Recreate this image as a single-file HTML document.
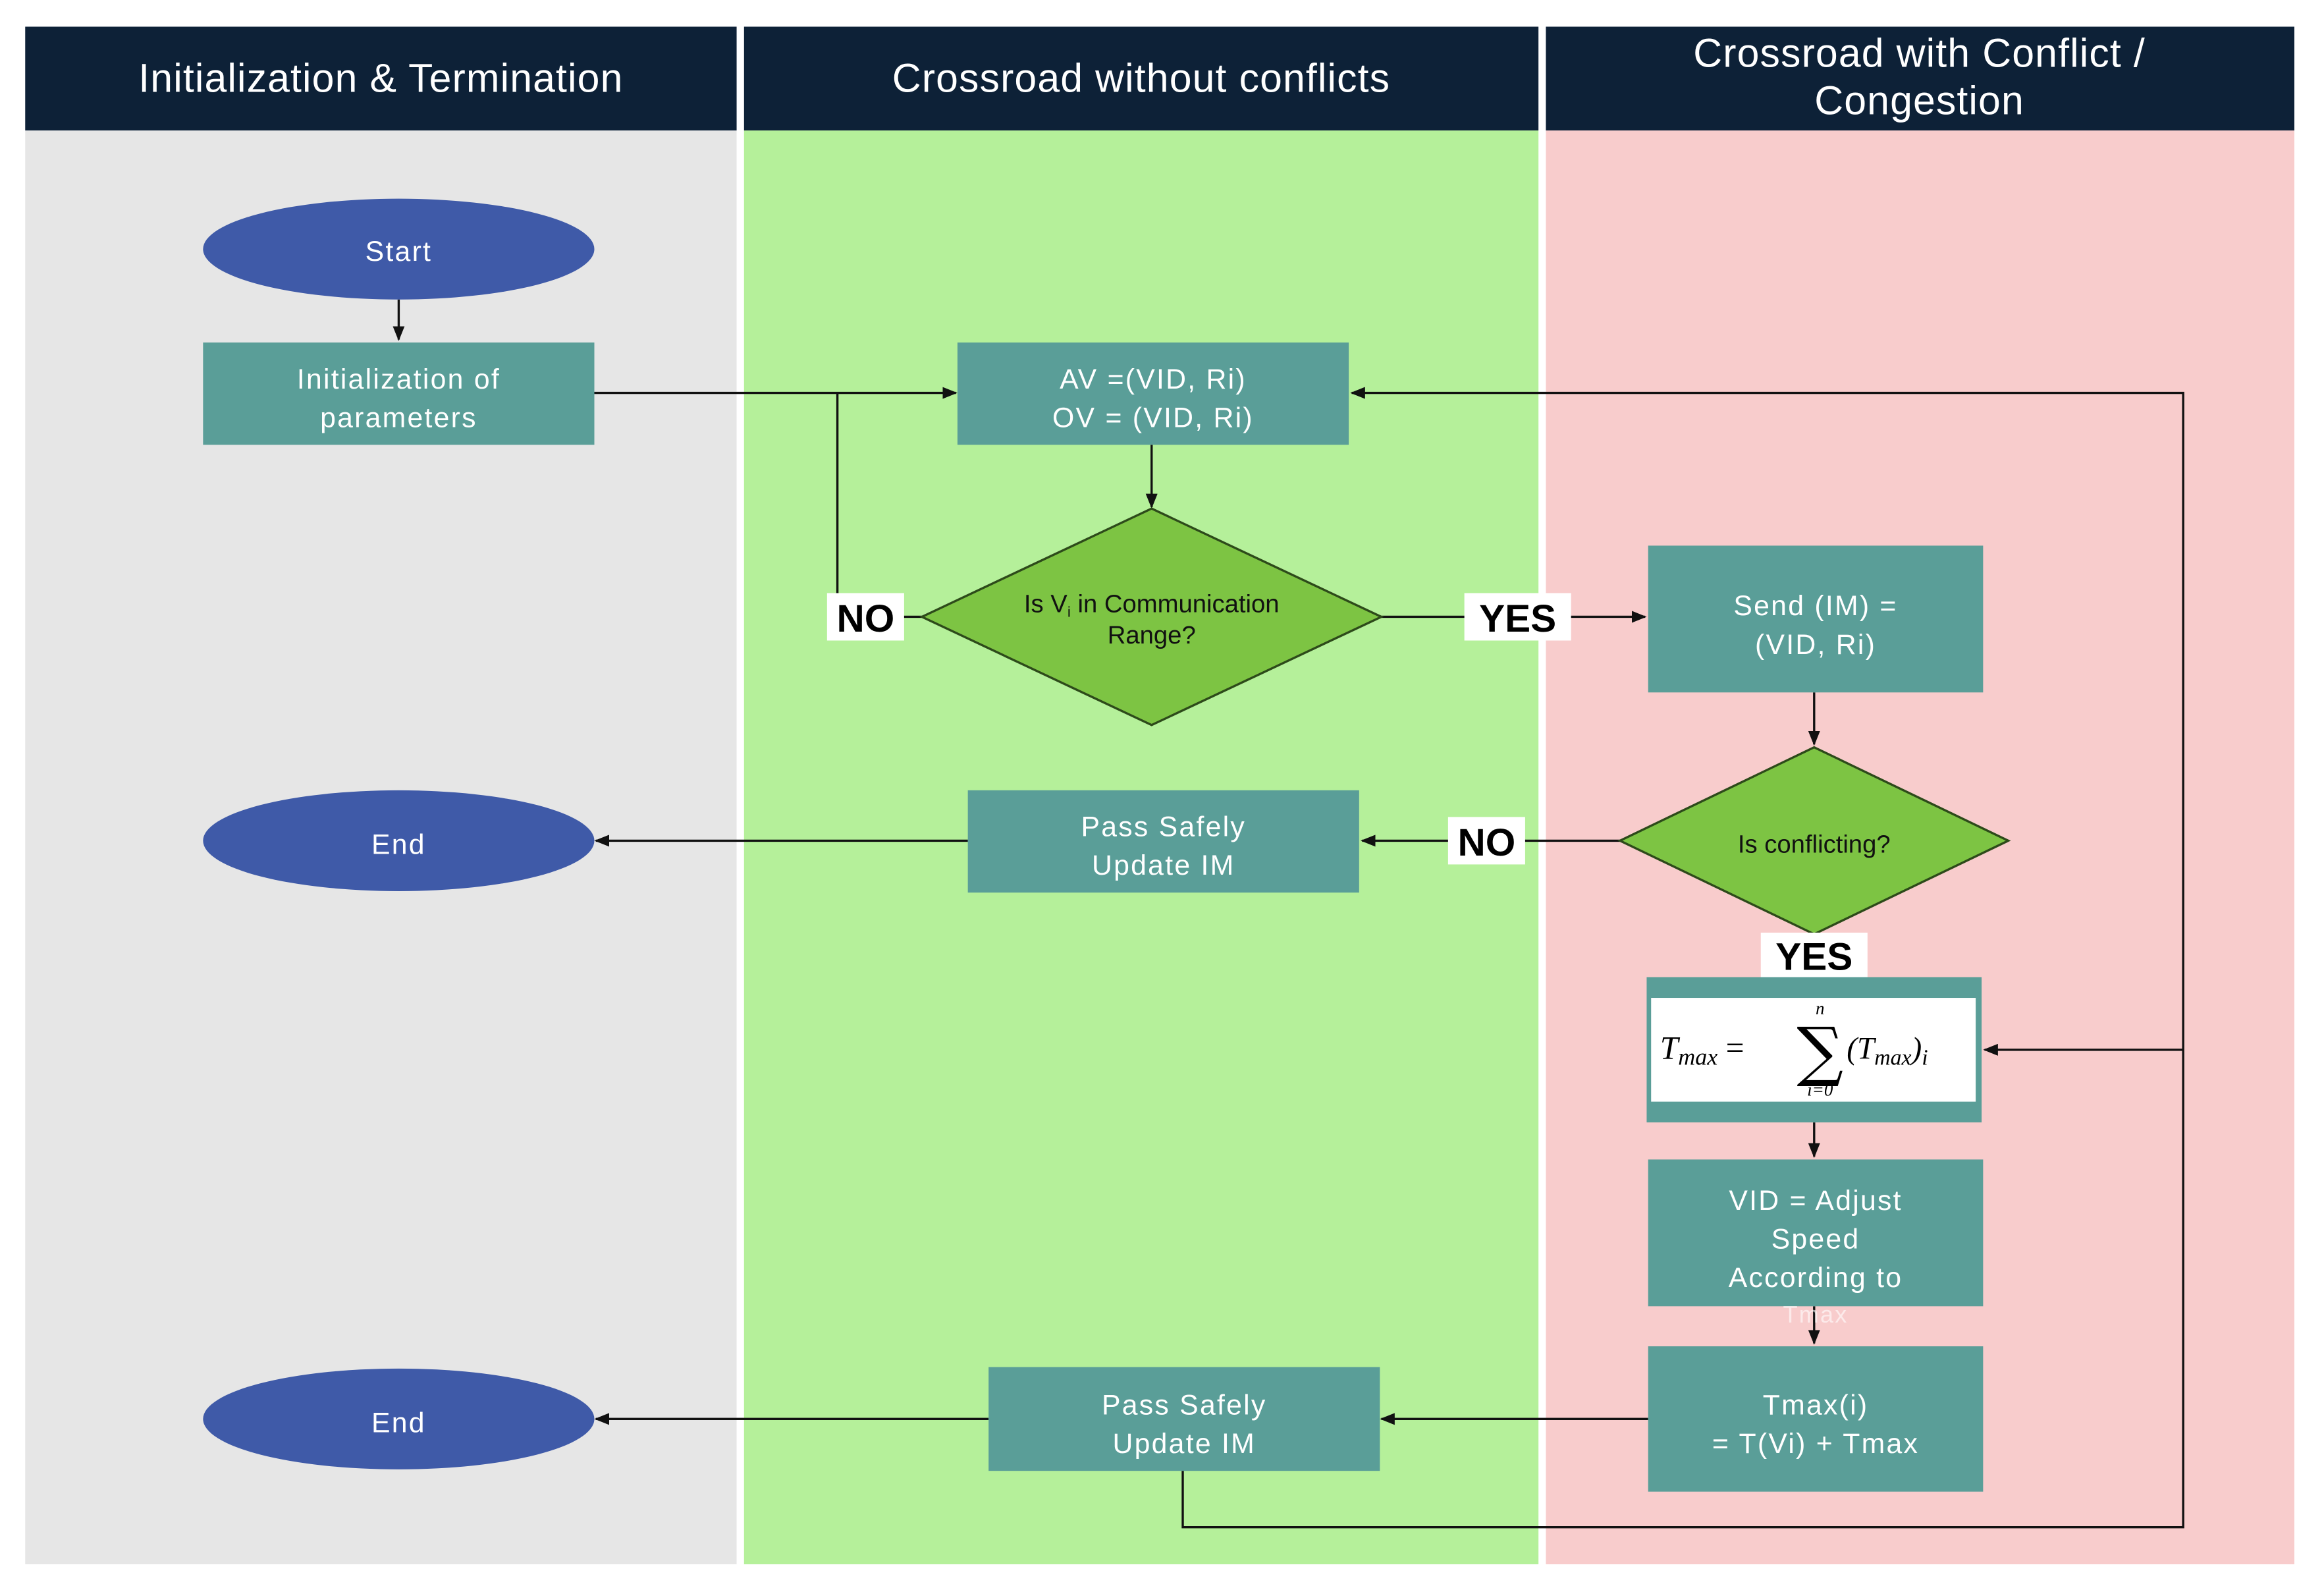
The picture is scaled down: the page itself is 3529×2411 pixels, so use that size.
<!DOCTYPE html>
<html><head><meta charset="utf-8"><style>
html,body{margin:0;padding:0;background:#fff;}
svg{display:block;}
.h{font-family:"Liberation Sans",sans-serif;font-size:27px;fill:#fff;letter-spacing:0.5px;}
.b{font-family:"Liberation Sans",sans-serif;font-size:19px;fill:#fff;letter-spacing:1px;}
.d{font-family:"Liberation Sans",sans-serif;font-size:17px;fill:#111;}
.l{font-family:"Liberation Sans",sans-serif;font-size:26px;font-weight:bold;fill:#000;}
.m{font-family:"Liberation Serif",serif;font-style:italic;fill:#000;}
</style></head><body>
<svg width="3529" height="2411" viewBox="0 0 1568 1071" preserveAspectRatio="none" xmlns="http://www.w3.org/2000/svg">
<defs><marker id="a" markerWidth="10" markerHeight="8" refX="9" refY="4" orient="auto" markerUnits="userSpaceOnUse"><path d="M0,0 L10,4 L0,8 z" fill="#111"/></marker></defs>
<rect width="1568" height="1071" fill="#fff"/>
<rect x="17" y="88" width="480" height="967" fill="#e6e6e6"/>
<rect x="502" y="88" width="536" height="967" fill="#b5f09a"/>
<rect x="1043" y="88" width="505" height="967" fill="#f8cccc"/>
<rect x="17" y="18" width="480" height="70" fill="#0d2137"/>
<rect x="502" y="18" width="536" height="70" fill="#0d2137"/>
<rect x="1043" y="18" width="505" height="70" fill="#0d2137"/>
<text class="h" x="257" y="62" text-anchor="middle">Initialization &amp; Termination</text>
<text class="h" x="770" y="62" text-anchor="middle">Crossroad without conflicts</text>
<text class="h" x="1295" y="45" text-anchor="middle">Crossroad with Conflict /</text>
<text class="h" x="1295" y="77" text-anchor="middle">Congestion</text>

<g fill="none" stroke="#111" stroke-width="1.5">
<line x1="269" y1="202" x2="269" y2="229" marker-end="url(#a)"/>
<line x1="401" y1="265" x2="645" y2="265" marker-end="url(#a)"/>
<polyline points="622,416 565,416 565,265"/>
<line x1="777" y1="300" x2="777" y2="342" marker-end="url(#a)"/>
<line x1="932" y1="416" x2="1110" y2="416" marker-end="url(#a)"/>
<line x1="1224" y1="467" x2="1224" y2="502" marker-end="url(#a)"/>
<line x1="1093" y1="567" x2="919" y2="567" marker-end="url(#a)"/>
<line x1="653" y1="567" x2="402" y2="567" marker-end="url(#a)"/>
<line x1="1224" y1="757" x2="1224" y2="780" marker-end="url(#a)"/>
<line x1="1224" y1="881" x2="1224" y2="906" marker-end="url(#a)"/>
<line x1="1112" y1="957" x2="932" y2="957" marker-end="url(#a)"/>
<line x1="667" y1="957" x2="402" y2="957" marker-end="url(#a)"/>
<polyline points="798,992 798,1030 1473,1030 1473,265 912,265" marker-end="url(#a)"/>
<line x1="1473" y1="708" x2="1339" y2="708" marker-end="url(#a)"/>
</g>

<g fill="#3f5aa8">
<ellipse cx="269" cy="168" rx="132" ry="34"/>
<ellipse cx="269" cy="567" rx="132" ry="34"/>
<ellipse cx="269" cy="957" rx="132" ry="34"/>
</g>
<text class="b" x="269" y="176" text-anchor="middle">Start</text>
<text class="b" x="269" y="576" text-anchor="middle">End</text>
<text class="b" x="269" y="966" text-anchor="middle">End</text>

<g fill="#5a9e98">
<rect x="137" y="231" width="264" height="69"/>
<rect x="646" y="231" width="264" height="69"/>
<rect x="1112" y="368" width="226" height="99"/>
<rect x="653" y="533" width="264" height="69"/>
<rect x="1111" y="659" width="226" height="98"/>
<rect x="1112" y="782" width="226" height="99"/>
<rect x="1112" y="908" width="226" height="98"/>
<rect x="667" y="922" width="264" height="70"/>
</g>
<rect x="1114" y="673" width="219" height="70" fill="#fff"/>

<text class="b" x="269" y="262" text-anchor="middle">Initialization of</text>
<text class="b" x="269" y="288" text-anchor="middle">parameters</text>
<text class="b" x="778" y="262" text-anchor="middle">AV =(VID, Ri)</text>
<text class="b" x="778" y="288" text-anchor="middle">OV = (VID, Ri)</text>
<text class="b" x="1225" y="415" text-anchor="middle">Send (IM) =</text>
<text class="b" x="1225" y="441" text-anchor="middle">(VID, Ri)</text>
<text class="b" x="785" y="564" text-anchor="middle">Pass Safely</text>
<text class="b" x="785" y="590" text-anchor="middle">Update IM</text>
<text class="b" x="799" y="954" text-anchor="middle">Pass Safely</text>
<text class="b" x="799" y="980" text-anchor="middle">Update IM</text>
<text class="b" x="1225" y="816" text-anchor="middle">VID = Adjust</text>
<text class="b" x="1225" y="842" text-anchor="middle">Speed</text>
<text class="b" x="1225" y="868" text-anchor="middle">According to</text>
<text class="b" x="1225" y="892" text-anchor="middle" style="font-size:16px;opacity:0.6">Tmax</text>
<text class="b" x="1225" y="954" text-anchor="middle">Tmax(i)</text>
<text class="b" x="1225" y="980" text-anchor="middle">= T(Vi) + Tmax</text>

<polygon points="622,416 777,343 932,416 777,489" fill="#7dc443" stroke="#2d4a1a" stroke-width="1.5"/>
<polygon points="1093,567 1224,504 1355,567 1224,630" fill="#7dc443" stroke="#2d4a1a" stroke-width="1.5"/>
<text class="d" x="777" y="413" text-anchor="middle">Is V<tspan font-size="10" dy="3">i</tspan><tspan dy="-3"> in Communication</tspan></text>
<text class="d" x="777" y="434" text-anchor="middle">Range?</text>
<text class="d" x="1224" y="575" text-anchor="middle">Is conflicting?</text>

<rect x="558" y="400" width="52" height="32" fill="#fff"/>
<text class="l" x="584" y="426" text-anchor="middle">NO</text>
<rect x="988" y="400" width="72" height="32" fill="#fff"/>
<text class="l" x="1024" y="426" text-anchor="middle">YES</text>
<rect x="977" y="551" width="52" height="32" fill="#fff"/>
<text class="l" x="1003" y="577" text-anchor="middle">NO</text>
<rect x="1188" y="629" width="72" height="30" fill="#fff"/>
<text class="l" x="1224" y="654" text-anchor="middle">YES</text>

<text class="m" x="1120" y="714" font-size="22">T<tspan font-size="16" dy="4">max</tspan><tspan dy="-4" font-style="normal"> =</tspan></text>
<text x="1228" y="724" font-family="DejaVu Serif,serif" font-size="44" text-anchor="middle">∑</text>
<text class="m" x="1228" y="684" font-size="12" text-anchor="middle">n</text>
<text class="m" x="1228" y="739" font-size="12" text-anchor="middle">i=0</text>
<text class="m" x="1246" y="714" font-size="21">(T<tspan font-size="15" dy="4">max</tspan><tspan dy="-4">)</tspan><tspan font-size="15" dy="4">i</tspan></text>
</svg>
</body></html>
